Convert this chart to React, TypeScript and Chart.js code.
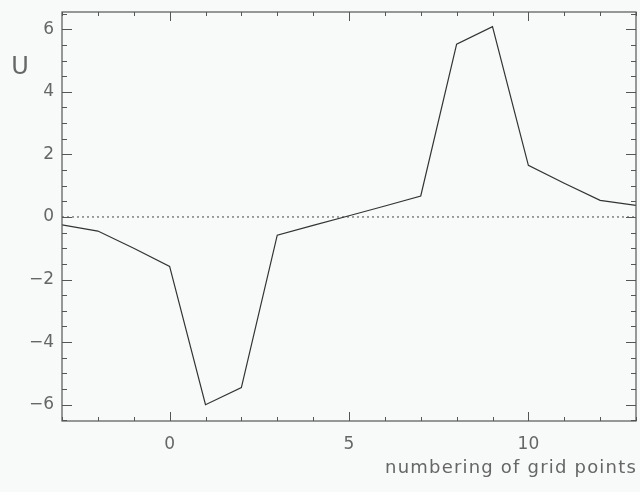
import React, { useEffect, useRef } from "react";
import { Chart, registerables } from "chart.js";
Chart.register(...registerables);

const xValues = [-3, -2, -1, 0, 1, 2, 3, 4, 5, 6, 7, 8, 9, 10, 11, 12, 13];
const uValues = [-0.25, -0.45, -1.0, -1.58, -6.0, -5.45, -0.58, -0.27, 0.04, 0.35, 0.67, 5.52, 6.08, 1.65, 1.08, 0.53, 0.37];
const zeroLineX = [-3, 13];
const zeroLineY = [0, 0];
const xTickLabels = [0, 5, 10];
const yTickLabels = [-6, -4, -2, 0, 2, 4, 6];
const xRange = [-3, 13];
const yRange = [-6.52, 6.55];
const yLabel = "U";
const xLabel = "numbering of grid points";

const TEXT = "#666";
const AXIS = "#555";
const FONT = "'DejaVu Sans', sans-serif";

const framePlugin = {
  id: "frameTicks",
  afterDatasetsDraw(chart: any) {
    const { ctx, chartArea: a, scales } = chart;
    const x = scales.x, y = scales.y;
    ctx.save();
    ctx.strokeStyle = AXIS;
    ctx.lineWidth = 1.2;
    ctx.strokeRect(a.left, a.top, a.right - a.left, a.bottom - a.top);
    ctx.lineWidth = 1;
    ctx.beginPath();
    for (let v = Math.ceil(xRange[0]); v <= xRange[1]; v += 1) {
      const px = Math.round(x.getPixelForValue(v)) + 0.5;
      const len = v % 5 === 0 ? 9 : 4;
      ctx.moveTo(px, a.bottom);
      ctx.lineTo(px, a.bottom - len);
      ctx.moveTo(px, a.top);
      ctx.lineTo(px, a.top + len);
    }
    for (let v = -6.5; v <= 6.5; v += 0.5) {
      if (v < yRange[0] || v > yRange[1]) continue;
      const py = Math.round(y.getPixelForValue(v)) + 0.5;
      const len = Math.abs(v % 2) < 1e-9 ? 10 : 5;
      ctx.moveTo(a.left, py);
      ctx.lineTo(a.left + len, py);
      ctx.moveTo(a.right, py);
      ctx.lineTo(a.right - len, py);
    }
    ctx.stroke();
    ctx.restore();
  },
  afterDraw(chart: any) {
    const { ctx, chartArea: a } = chart;
    ctx.save();
    ctx.fillStyle = TEXT;
    ctx.font = `24px ${FONT}`;
    ctx.textAlign = "center";
    ctx.textBaseline = "middle";
    ctx.fillText(yLabel, 20, 68);
    ctx.font = `18px ${FONT}`;
    (ctx as any).letterSpacing = "1.2px";
    ctx.textAlign = "right";
    ctx.fillText(xLabel, a.right + 1, 468);
    ctx.restore();
  },
};

const bgPlugin = {
  id: "bg",
  beforeDraw(chart: any) {
    const { ctx, width, height } = chart;
    ctx.save();
    ctx.fillStyle = "#f8f9f9";
    ctx.fillRect(0, 0, width, height);
    ctx.restore();
  },
};

export default function App() {
  const ref = useRef<HTMLCanvasElement>(null);
  useEffect(() => {
    if (!ref.current) return;
    const chart = new Chart(ref.current, {
      type: "line",
      data: {
        datasets: [
          {
            data: xValues.map((v, i) => ({ x: v, y: uValues[i] })),
            borderColor: "#333",
            borderWidth: 1.2,
            pointRadius: 0,
            tension: 0,
            fill: false,
          },
          {
            data: zeroLineX.map((v, i) => ({ x: v, y: zeroLineY[i] })),
            borderColor: "#444",
            borderWidth: 1,
            borderDash: [2, 3],
            pointRadius: 0,
            fill: false,
          },
        ],
      },
      options: {
        animation: false,
        responsive: false,
        maintainAspectRatio: false,
        layout: { padding: { top: 12, right: 4, left: 0, bottom: 0 } },
        plugins: { legend: { display: false }, tooltip: { enabled: false }, title: { display: false } },
        scales: {
          x: {
            type: "linear",
            min: xRange[0],
            max: xRange[1],
            grid: { display: false, drawTicks: false },
            border: { display: false },
            afterBuildTicks: (s: any) => {
              s.ticks = xTickLabels.map((v) => ({ value: v }));
            },
            afterFit: (s: any) => {
              s.height = 71;
              s.paddingLeft = 0;
              s.paddingRight = 0;
            },
            ticks: { color: TEXT, font: { family: FONT, size: 17 }, padding: 13, maxRotation: 0 },
          },
          y: {
            type: "linear",
            min: yRange[0],
            max: yRange[1],
            grid: { display: false, drawTicks: false },
            border: { display: false },
            afterBuildTicks: (s: any) => {
              s.ticks = yTickLabels.map((v) => ({ value: v }));
            },
            afterFit: (s: any) => {
              s.width = 62;
              s.paddingTop = 0;
              s.paddingBottom = 0;
            },
            ticks: {
              color: TEXT,
              font: { family: FONT, size: 17 },
              padding: 8,
              callback: (v: any) => (Number(v) < 0 ? "\u2212" + Math.abs(Number(v)) : String(v)),
            },
          },
        },
      },
      plugins: [bgPlugin, framePlugin],
    });
    return () => chart.destroy();
  }, []);
  return (
    <canvas
      ref={ref}
      width={640}
      height={492}
      style={{ position: "absolute", left: 0, top: 0, width: 640, height: 492 }}
    />
  );
}
